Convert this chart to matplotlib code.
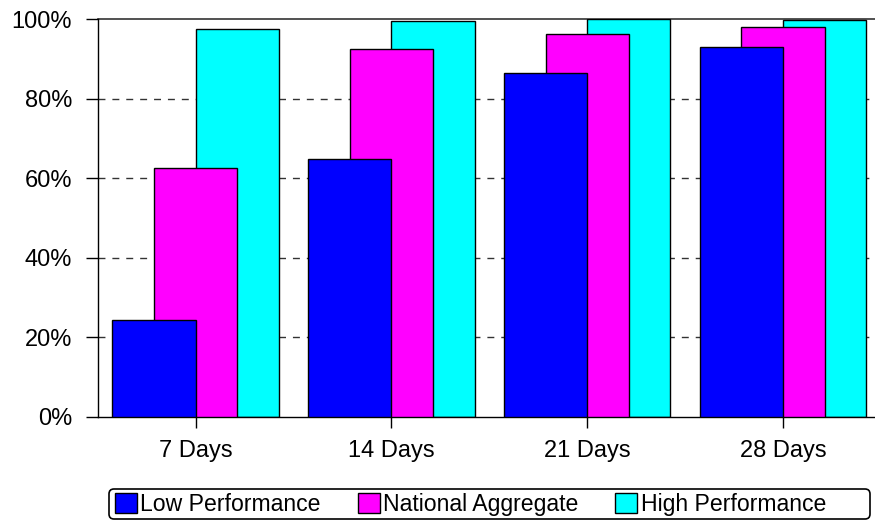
import numpy as np
import matplotlib.pyplot as plt
from matplotlib.patches import FancyBboxPatch

plt.rcParams['font.family'] = ['Liberation Sans', 'DejaVu Sans']

categories = ['7 Days', '14 Days', '21 Days', '28 Days']
low_perf = [24.3, 64.8, 86.4, 93.0]
national = [62.5, 92.5, 96.3, 97.9]
high_perf = [97.6, 99.5, 99.9, 99.7]

fig = plt.figure(figsize=(8.75, 5.21), dpi=100)
ax = fig.add_axes([0.1117, 0.2002, 0.895, 0.7633])

x = np.arange(len(categories))
w = 0.425
# drawn back to front: cyan, magenta, blue on top
b3 = ax.bar(x + 0.2125, high_perf, w, color='#00FFFF', edgecolor='black', linewidth=1, zorder=2, label='High Performance')
b2 = ax.bar(x, national, w, color='#FF00FF', edgecolor='black', linewidth=1, zorder=3, label='National Aggregate')
b1 = ax.bar(x - 0.2125, low_perf, w, color='#0000FF', edgecolor='black', linewidth=1, zorder=4, label='Low Performance')

ax.set_xlim(-0.5, 3.5)
ax.set_ylim(0, 100)
ax.set_yticks([0, 20, 40, 60, 80, 100])
ax.set_yticklabels([f'{v}%' for v in [0, 20, 40, 60, 80, 100]])
ax.set_xticks(x)
ax.set_xticklabels(categories)

for v in [20, 40, 60, 80]:
    ax.axhline(v, color='#333333', linestyle=(0, (5, 5)), linewidth=1, zorder=1)
ax.axhline(100, color='#333333', linewidth=1.2, zorder=1, clip_on=False)

for s in ['top', 'right']:
    ax.spines[s].set_visible(False)
ax.spines['left'].set_linewidth(1)
ax.spines['bottom'].set_linewidth(1)

ax.tick_params(axis='y', direction='out', length=8.6, width=1, labelsize=17, pad=10)
ax.tick_params(axis='x', direction='out', length=8, width=1, labelsize=17, pad=8.5)

# legend without frame, box drawn separately (extra room on the right like the original)
leg = fig.legend(handles=[b1, b2, b3], loc='center left', bbox_to_anchor=(115 / 875, 0.0326), ncol=3,
                 fontsize=16.6, frameon=False, borderpad=0, borderaxespad=0,
                 handlelength=0.95, handleheight=0.95, handletextpad=0.15,
                 columnspacing=1.6)
box = FancyBboxPatch((114, 7), 751, 20, boxstyle='round,pad=5', transform=None,
                     facecolor='white', edgecolor='black', linewidth=1.2, zorder=0)
fig.add_artist(box)

fig.savefig('out.png', dpi=100)
